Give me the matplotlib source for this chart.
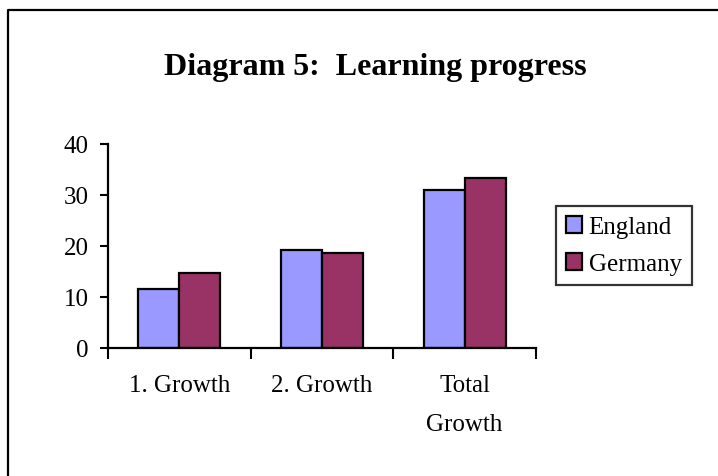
import matplotlib
matplotlib.use('Agg')
import matplotlib.pyplot as plt
from matplotlib.lines import Line2D
import numpy as np

# Data
categories = ['1. Growth', '2. Growth', 'Total\nGrowth']
england = [11.6, 19.2, 30.9]
germany = [14.8, 18.7, 33.4]
series_names = ['England', 'Germany']
yticks = [0, 10, 20, 30, 40]

plt.rcParams['font.family'] = ['Liberation Serif', 'DejaVu Serif']

fig = plt.figure(figsize=(7.18, 4.77), dpi=100)
ax = fig.add_axes([108/718, 1 - 349/477, (536 - 108)/718, (349 - 145)/477])

x = np.arange(len(categories))
w = 0.287
ax.bar(x - w/2, england, w, color='#9999FF', edgecolor='black', linewidth=1.6, label=series_names[0])
ax.bar(x + w/2, germany, w, color='#993366', edgecolor='black', linewidth=1.6, label=series_names[1])

ax.set_xlim(-0.5, len(categories) - 0.5)
ax.set_ylim(0, 40)
ax.set_yticks(yticks)
ax.tick_params(axis='y', direction='out', length=6, width=1.5, pad=8, labelsize=18)

# ticks at category boundaries, labels in between
ax.set_xticks(np.arange(len(categories) + 1) - 0.5)
ax.set_xticklabels([])
ax.set_xticks(x, minor=True)
ax.set_xticklabels(categories, minor=True, fontsize=18, linespacing=2.0, va='top')
ax.tick_params(axis='x', which='major', direction='out', length=8, width=1.5)
ax.tick_params(axis='x', which='minor', length=0, pad=19)

for s in ['top', 'right']:
    ax.spines[s].set_visible(False)
for s in ['left', 'bottom']:
    ax.spines[s].set_linewidth(1.6)

leg = fig.legend(loc='upper left', bbox_to_anchor=(556/718, 1 - 207/477),
                 fontsize=18, frameon=True, fancybox=False, handlelength=0.65,
                 handleheight=0.65, handletextpad=0.25, borderpad=0.4,
                 labelspacing=0.6, borderaxespad=0)
leg.get_frame().set_edgecolor('black')
leg.get_frame().set_linewidth(1.6)

fig.text(375/718, 1 - 75/477, 'Diagram 5:  Learning progress', ha='center',
         va='baseline', fontsize=23, fontweight='bold')

# outer border (top and left)
fig.add_artist(Line2D([8/718, 8/718, 1], [0, 1 - 11/477, 1 - 11/477],
                      transform=fig.transFigure, color='black', linewidth=1.6))

fig.savefig('out.png', dpi=100)
